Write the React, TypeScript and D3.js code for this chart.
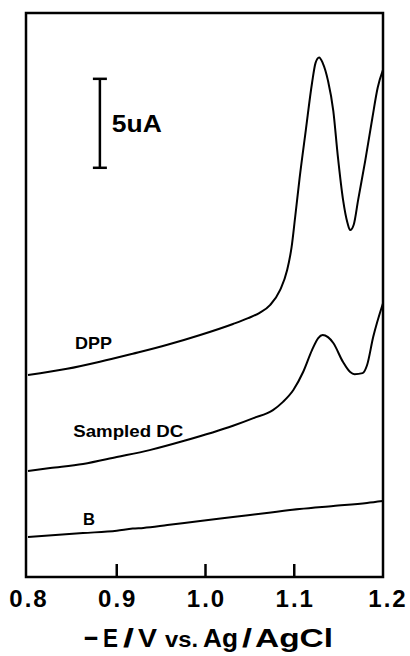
import * as d3 from "d3";

type Pt = [number, number];

// potential (-E / V) and current (uA)
const dppCurve: Pt[] = [
  [0.8, 11.35], [0.844, 11.7], [0.881, 12.1], [0.918, 12.55], [0.957, 13.05],
  [0.994, 13.6], [1.031, 14.22], [1.048, 14.55], [1.061, 14.85], [1.073, 15.3],
  [1.084, 16.12], [1.092, 17.25], [1.097, 18.54], [1.101, 20.22], [1.106, 22.4],
  [1.113, 25.1], [1.12, 27.75], [1.124, 28.9], [1.128, 29.2], [1.132, 28.9],
  [1.138, 27.9], [1.144, 26.2], [1.149, 23.7], [1.155, 21.2], [1.16, 19.9],
  [1.163, 19.5], [1.167, 19.8], [1.172, 21.2], [1.18, 23.4], [1.188, 25.8],
  [1.194, 27.5], [1.2, 28.5],
];

const sampledDcCurve: Pt[] = [
  [0.8, 5.96], [0.825, 6.12], [0.862, 6.35], [0.9, 6.74], [0.937, 7.13],
  [0.975, 7.64], [1.031, 8.5], [1.054, 8.93], [1.076, 9.38], [1.087, 9.83],
  [1.099, 10.51], [1.11, 11.52], [1.12, 12.75], [1.127, 13.43], [1.132, 13.6],
  [1.138, 13.48], [1.144, 13.15], [1.155, 12.08], [1.163, 11.52], [1.168, 11.4],
  [1.177, 11.46], [1.182, 11.9], [1.189, 13.5], [1.2, 15.39],
];

const blankCurve: Pt[] = [
  [0.8, 2.25], [0.862, 2.47], [0.9, 2.6], [0.918, 2.72], [0.93, 2.76],
  [0.957, 2.92], [0.994, 3.15], [1.031, 3.37], [1.069, 3.6], [1.106, 3.82],
  [1.144, 3.99], [1.182, 4.16], [1.2, 4.27],
];

const xTicks = [0.8, 0.9, 1.0, 1.1, 1.2];
const innerTicks = [0.9, 1.0, 1.1];

const curveLabels = [
  { text: "DPP", e: 0.853, i: 12.8, len: 37 },
  { text: "Sampled DC", e: 0.851, i: 7.87, len: 110 },
  { text: "B", e: 0.862, i: 2.92, len: 12 },
];

// scale bar: 5 uA
const scaleBar = { e: 0.881, top: 28.0, value: 5, label: "5uA" };

// axis title, set piece by piece like the original lettering
const titleParts = [
  { t: "E", x: 103, len: 15 },
  { t: "/", x: 123, len: 11 },
  { t: "V", x: 138, len: 19 },
  { t: "vs.", x: 165, len: 33, size: 22 },
  { t: "Ag", x: 203, len: 35 },
  { t: "/", x: 242, len: 10 },
  { t: "AgCl", x: 255, len: 78 },
];

const width = 410;
const height = 656;
const plot = { left: 28, right: 383, top: 13, bottom: 577 };

export default function App() {
  const x = d3.scaleLinear().domain([0.8, 1.2]).range([plot.left, plot.right]);
  const y = d3.scaleLinear().domain([0, 31.7]).range([plot.bottom, plot.top]);

  const line = d3
    .line<Pt>()
    .x((d) => x(d[0]))
    .y((d) => y(d[1]))
    .curve(d3.curveMonotoneX);

  const font = "'Liberation Sans', Arial, Helvetica, sans-serif";
  const sbX = x(scaleBar.e);
  const sbTop = y(scaleBar.top);
  const sbBottom = y(scaleBar.top - scaleBar.value);

  return (
    <svg
      width={width}
      height={height}
      style={{ position: "absolute", left: 0, top: 0, background: "#fff" }}
      fontFamily={font}
    >
      <rect
        x={plot.left - 2}
        y={plot.top}
        width={plot.right - plot.left + 2}
        height={plot.bottom - plot.top}
        fill="none"
        stroke="#000"
        strokeWidth={2.5}
      />
      {innerTicks.map((t) => (
        <line key={t} x1={x(t)} x2={x(t)} y1={plot.bottom} y2={plot.bottom - 13} stroke="#000" strokeWidth={2.5} />
      ))}

      {[dppCurve, sampledDcCurve, blankCurve].map((c, i) => (
        <path key={i} d={line(c) ?? ""} fill="none" stroke="#000" strokeWidth={2} />
      ))}

      {curveLabels.map((l) => (
        <text
          key={l.text}
          x={x(l.e)}
          y={y(l.i)}
          fontSize={16.5}
          fontWeight="bold"
          fill="#000"
          textLength={l.len}
          lengthAdjust="spacingAndGlyphs"
        >
          {l.text}
        </text>
      ))}

      <g stroke="#000" strokeWidth={2.5}>
        <line x1={sbX} x2={sbX} y1={sbTop} y2={sbBottom} />
        <line x1={sbX - 7} x2={sbX + 7} y1={sbTop} y2={sbTop} />
        <line x1={sbX - 7} x2={sbX + 7} y1={sbBottom} y2={sbBottom} />
      </g>
      <text
        x={sbX + 12}
        y={132}
        fontSize={23}
        fontWeight="bold"
        fill="#000"
        textLength={50}
        lengthAdjust="spacingAndGlyphs"
      >
        {scaleBar.label}
      </text>

      {xTicks.map((t) => (
        <text
          key={t}
          x={x(t) + (t === 1.2 ? 5 : 1)}
          y={607}
          fontSize={24}
          fontWeight="bold"
          textAnchor="middle"
          letterSpacing={2}
          fill="#000"
        >
          {t.toFixed(1)}
        </text>
      ))}

      <g fontWeight="bold" fill="#000">
        <text x={84} y={647} fontSize={34} textLength={14} lengthAdjust="spacingAndGlyphs">
          –
        </text>
        {titleParts.map((p, i) => (
          <text
            key={i}
            x={p.x}
            y={647}
            fontSize={p.size ?? 25}
            textLength={p.len}
            lengthAdjust="spacingAndGlyphs"
          >
            {p.t}
          </text>
        ))}
      </g>
    </svg>
  );
}
